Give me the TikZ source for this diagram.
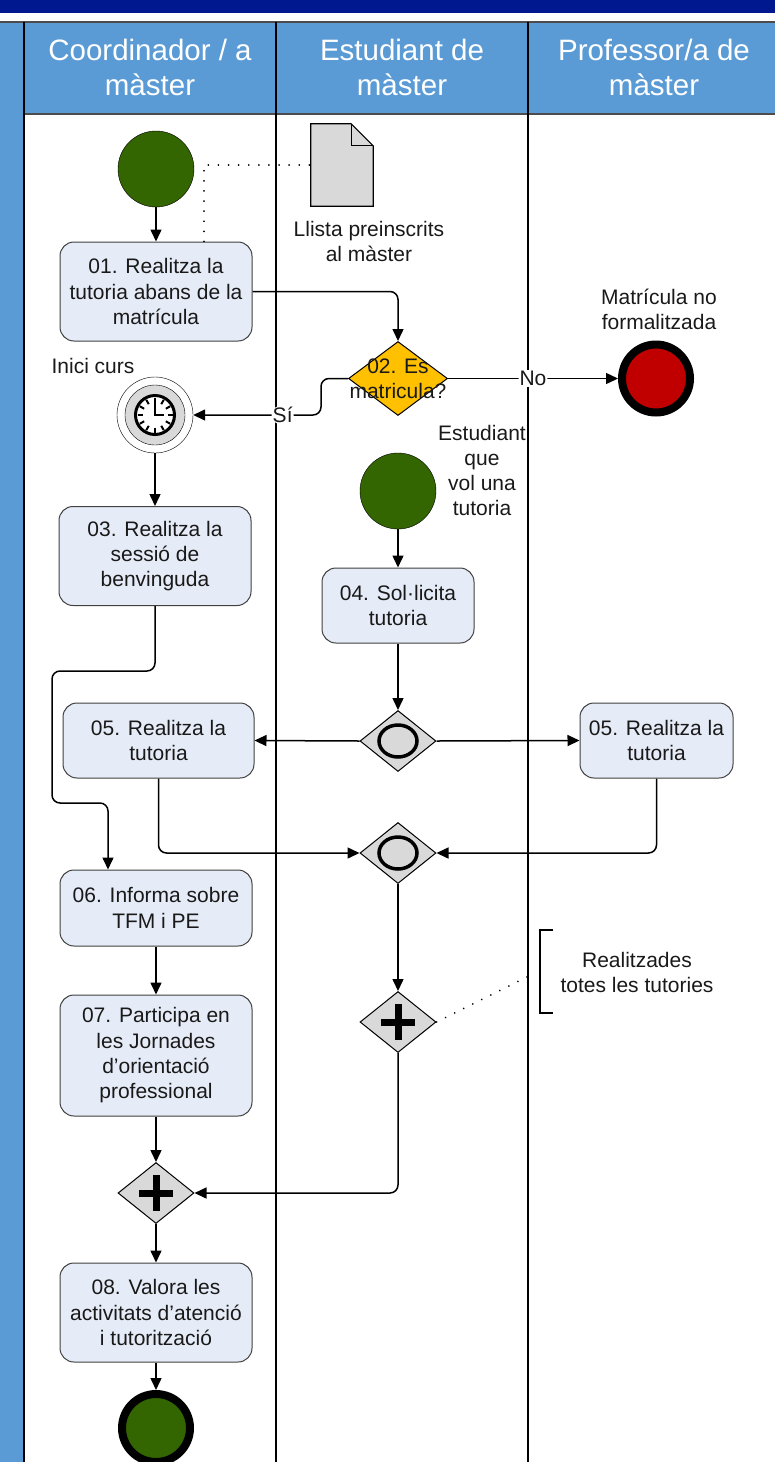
\documentclass[tikz,border=0pt]{standalone}
\usepackage{fontspec}
\setmainfont{Liberation Sans}
\usetikzlibrary{shapes.geometric, arrows.meta}
\definecolor{lanehead}{RGB}{91,155,213}
\definecolor{navybar}{RGB}{0,24,143}
\definecolor{taskfill}{RGB}{230,236,247}
\definecolor{gwgray}{RGB}{217,217,217}
\definecolor{evgreen}{RGB}{51,102,0}
\definecolor{evred}{RGB}{192,0,0}
\definecolor{gwyellow}{RGB}{255,192,0}
\begin{document}
\begin{tikzpicture}[x = 1pt, y = -1pt,
		every node/.style = {font = \fontsize{21}{25.3}\selectfont, align = center, text = black!90},
		task/.style = {draw = black!75, fill = taskfill, rounded corners = 14pt, line width = 1pt, minimum width = 192pt, inner sep = 0pt},
		startev/.style = {draw, fill = evgreen, circle, minimum size = 76pt, inner sep = 0pt},
		endev/.style = {draw, line width = 8pt, circle, minimum size = 68pt, inner sep = 0pt},
		gateway/.style = {draw, line width = 1pt, fill = gwgray, diamond, minimum width = 76pt, minimum height = 61pt, inner sep = 0pt},
		flow/.style = {draw, line width = 1.5pt, rounded corners = 8pt, -{Triangle[length = 12pt, width = 11pt]}},
		assoc/.style = {draw, line width = 1.8pt, line cap = round, dash pattern = on 0.1pt off 10pt},
		flowlabel/.style = {fill = white, inner sep = 1pt}]
		\clip (0,0) rectangle (775,1462);
		\fill[navybar] (0,0) rectangle (775,13);
		\fill[lanehead] (0,22) rectangle (775,114);
		\fill[lanehead] (0,22) rectangle (24,1462);
		\draw[black!70, line width = 1.5pt] (0,22) -- (775,22);
		\draw[black!70, line width = 1.5pt] (24,114) -- (775,114);
		\foreach \lx in {24,276,528} \draw[line width = 2pt] (\lx,22) -- (\lx,1462);
		
		\node[text = white, font = \fontsize{29.5}{35}\selectfont] at (150,67.5) (hcoord) {Coordinador / a\\màster};
		\node[text = white, font = \fontsize{29.5}{35}\selectfont] at (402,67.5) (hstud) {Estudiant de\\màster};
		\node[text = white, font = \fontsize{29.5}{35}\selectfont] at (654,67.5) (hprof) {Professor/a de\\màster};
		
		\node[startev] at (156,169) (start1) {};
		\node[task, minimum height = 99pt] at (156,291.5) (t01) {01. Realitza la\\tutoria abans de la\\matrícula};
		\node[minimum width = 62pt, minimum height = 82pt, inner sep = 0pt] at (342,165) (doc) {};
		\node at (369,241.5) (doclabel) {Llista preinscrits\\al màster};
		\node[diamond, draw, line width = 1pt, fill = gwyellow, minimum width = 99pt, minimum height = 74pt, inner sep = 0pt, label = {center:02. Es\\matricula?}] at (398,378.5) (gw02) {};
		\node[endev, fill = evred] at (656,378.5) (endno) {};
		\node at (659,309.5) (endnolabel) {Matrícula no\\formalitzada};
		\node[draw, fill = white, circle, minimum size = 76pt, inner sep = 0pt] at (155,415) (timer) {};
		\node at (93,366) (timerlabel) {Inici curs};
		\node[task, minimum height = 99pt] at (155,556) (t03) {03. Realitza la\\sessió de\\benvinguda};
		\node[startev] at (398,491) (start2) {};
		\node at (482,470.5) (start2label) {Estudiant\\que\\vol una\\tutoria};
		\node[task, minimum width = 152pt, minimum height = 75pt] at (398,605.5) (t04) {04. Sol·licita\\tutoria};
		\node[gateway] at (398,741) (gwfork) {};
		\node[task, minimum width = 191pt, minimum height = 75pt] at (158.5,740.5) (t05a) {05. Realitza la\\tutoria};
		\node[task, minimum width = 153pt, minimum height = 75pt] at (656.5,740.5) (t05b) {05. Realitza la\\tutoria};
		\node[gateway] at (398,853) (gwjoin) {};
		\node[task, minimum height = 76pt] at (156,908) (t06) {06. Informa sobre\\TFM i PE};
		\node[gateway] at (398,1022) (gwall) {};
		\node at (637,972.5) (notetext) {Realitzades\\totes les tutories};
		\node[task, minimum height = 121pt] at (156,1055.5) (t07) {07. Participa en\\les Jornades\\d’orientació\\professional};
		\node[gateway] at (156,1193) (gwsync) {};
		\node[task, minimum height = 99pt] at (156,1312.5) (t08) {08. Valora les\\activitats d’atenció\\i tutorització};
		\node[endev, fill = evgreen] at (156,1428) (endok) {};
		\coordinate (noteleft) at (531,975);
		
		\draw[fill = gwgray, line width = 1.2pt] (doc.south west) -- (doc.north west) -- ([xshift = -22pt]doc.north east) -- ([yshift = -22pt]doc.north east) -- (doc.south east) -- cycle;
		\draw[line width = 1.2pt] ([xshift = -22pt]doc.north east) -- ([xshift = -22pt, yshift = -22pt]doc.north east) -- ([yshift = -22pt]doc.north east);
		\draw[fill = gwgray] (timer.center) circle [radius = 30pt];
		\draw[fill = white, line width = 3pt] (timer.center) circle [radius = 19.5pt];
		\foreach \a in {0,30,...,330} \draw[line width = 2pt] ([shift = {(\a:12.5pt)}]timer.center) -- ([shift = {(\a:17.5pt)}]timer.center);
		\draw[line width = 2.5pt] ([yshift = 12pt]timer.center) -- (timer.center) -- ([xshift = 9pt]timer.center);
		\foreach \g in {gwfork, gwjoin} \draw[line width = 3.5pt] (\g.center) ellipse [x radius = 19pt, y radius = 16pt];
		\foreach \g in {gwall, gwsync} \draw[line width = 7pt] ([xshift = -17pt]\g.center) -- ([xshift = 17pt]\g.center) ([yshift = -18pt]\g.center) -- ([yshift = 18pt]\g.center);
		
		\draw[flow] (start1) -- (t01);
		\draw[flow] (t01.east) -| (gw02.north);
		\draw[flow] (gw02.east) -- node[flowlabel] {No} (endno.west);
		\draw[flow] (gw02.west) -- ++(-27,0) |- node[flowlabel, pos = 0.65] {Sí} (timer.east);
		\draw[flow] (timer) -- (t03);
		\draw[flow] (t03.south) -- ++(0,65) -- ++(-103,0) -- ++(0,132) -| ([xshift = -48pt]t06.north);
		\draw[flow] (start2) -- (t04);
		\draw[flow] (t04) -- (gwfork);
		\draw[flow] (gwfork.west) -- (t05a.east);
		\draw[flow] (gwfork.east) -- (t05b.west);
		\draw[flow] (t05a.south) |- (gwjoin.west);
		\draw[flow] (t05b.south) |- (gwjoin.east);
		\draw[flow] (gwjoin) -- (gwall);
		\draw[flow] (gwall.south) |- (gwsync.east);
		\draw[flow] (t06) -- (t07);
		\draw[flow] (t07) -- (gwsync);
		\draw[flow] (gwsync) -- (t08);
		\draw[flow] (t08) -- (endok);
		
		\draw[assoc] ([xshift = 48pt]t01.north) |- (doc.west);
		\draw[assoc] (gwall.east) -- (noteleft);
		\draw[line width = 1.3pt] (553,930) -- (540,930) -- (540,1013) -- (553,1013);
		\end{tikzpicture}
\end{document}
